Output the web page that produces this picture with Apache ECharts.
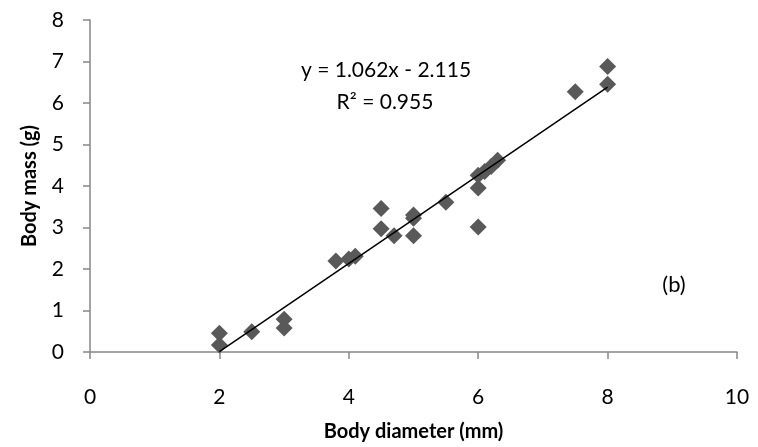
<!DOCTYPE html>
<html>
<head>
<meta charset="utf-8">
<script src="https://cdn.jsdelivr.net/npm/echarts@6/dist/echarts.min.js"></script>
<style>
  html, body { margin: 0; padding: 0; background: #fff; }
  #chart { width: 758px; height: 447px; }
</style>
</head>
<body>
<div id="chart"></div>
<script>
// body diameter (mm) vs body mass (g)
const diameter = [2, 2, 2.5, 3, 3, 3.8, 4, 4.1, 4.5, 4.5, 4.7, 5, 5, 5, 5.5, 6, 6, 6, 6.1, 6.2, 6.3, 7.5, 8, 8];
const mass = [0.45, 0.17, 0.49, 0.79, 0.58, 2.19, 2.24, 2.31, 3.46, 2.97, 2.8, 3.3, 3.22, 2.8, 3.61, 3.01, 3.95, 4.26, 4.35, 4.47, 4.62, 6.27, 6.88, 6.45];

// trend line end points (y = 1.062x - 2.115)
const trendX = [2, 8];
const trendY = [0.009, 6.381];

const xTicks = [0, 2, 4, 6, 8, 10];
const yTicks = [0, 1, 2, 3, 4, 5, 6, 7, 8];

const chartDom = document.getElementById('chart');
const myChart = echarts.init(chartDom);

const font = 'Lato, "Open Sans", sans-serif';
const colors = {
    point: '#595959',
    axis: '#868686',
    text: '#000'
};

const option = {
    backgroundColor: '#fff',
    animation: false,
    grid: { left: 90, right: 21, top: 20, bottom: 91 },
    xAxis: {
        type: 'value',
        min: xTicks[0],
        max: xTicks[xTicks.length - 1],
        interval: 2,
        name: 'Body diameter (mm)',
        nameLocation: 'middle',
        nameGap: 70,
        nameTextStyle: { color: colors.text, fontSize: 20, fontWeight: 'bold', fontFamily: font },
        axisLine: { show: true, onZero: false, lineStyle: { color: colors.axis, width: 1.5 } },
        axisTick: { show: true, length: 7, lineStyle: { color: colors.axis, width: 1.5 } },
        axisLabel: { color: colors.text, fontSize: 21, fontFamily: font, margin: 35 },
        splitLine: { show: false }
    },
    yAxis: {
        type: 'value',
        min: yTicks[0],
        max: yTicks[yTicks.length - 1],
        interval: 1,
        name: 'Body mass (g)',
        nameLocation: 'middle',
        nameGap: 50,
        nameTextStyle: { color: colors.text, fontSize: 20, fontWeight: 'bold', fontFamily: font },
        axisLine: { show: true, onZero: false, lineStyle: { color: colors.axis, width: 1.5 } },
        axisTick: { show: true, inside: false, length: 7, lineStyle: { color: colors.axis, width: 1.5 } },
        axisLabel: { color: colors.text, fontSize: 21, fontFamily: font, margin: 26 },
        splitLine: { show: false }
    },
    graphic: [
        {
            type: 'text',
            x: 386, y: 70,
            style: {
                text: 'y = 1.062x - 2.115',
                font: '21px ' + font,
                fill: colors.text,
                textAlign: 'center',
                textVerticalAlign: 'middle'
            }
        },
        {
            type: 'text',
            x: 385, y: 102,
            style: {
                text: 'R² = 0.955',
                font: '21px ' + font,
                fill: colors.text,
                textAlign: 'center',
                textVerticalAlign: 'middle'
            }
        },
        {
            type: 'text',
            x: 674, y: 285,
            style: {
                text: '(b)',
                font: '22px ' + font,
                fill: colors.text,
                textAlign: 'center',
                textVerticalAlign: 'middle'
            }
        }
    ],
    series: [
        {
            name: 'mass',
            type: 'scatter',
            data: diameter.map((x, i) => [x, mass[i]]),
            symbol: 'diamond',
            symbolSize: [17, 17],
            itemStyle: { color: colors.point, opacity: 1 },
            emphasis: { disabled: true },
            z: 2
        },
        {
            name: 'trend',
            type: 'line',
            data: trendX.map((x, i) => [x, trendY[i]]),
            symbol: 'none',
            lineStyle: { color: '#000', width: 1.5 },
            emphasis: { disabled: true },
            z: 3
        }
    ]
};

myChart.setOption(option);
window.addEventListener('resize', () => myChart.resize());
</script>
</body>
</html>
